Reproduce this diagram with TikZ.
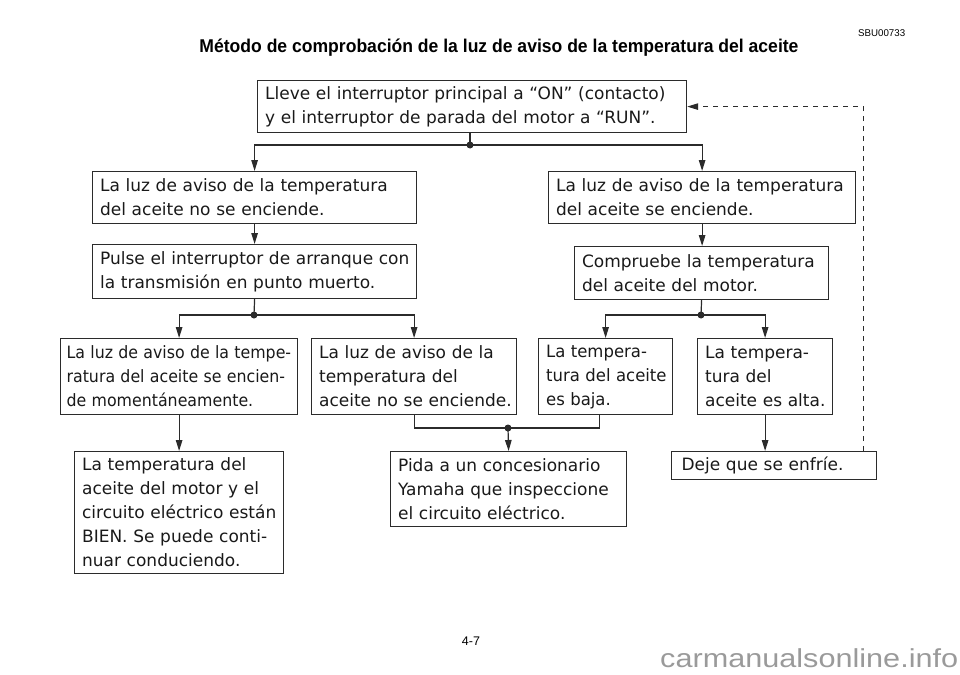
\documentclass[tikz,border=0pt]{standalone}
\usepackage{graphicx}
\usepackage{fontspec}
\setmainfont{DejaVu Sans}
\newfontfamily\titlefont{Liberation Sans}
\usetikzlibrary{arrows.meta}
\definecolor{ink}{HTML}{2B2B2B}
\definecolor{wm}{HTML}{9A9A9A}
\newcommand{\bxfont}{\fontsize{17}{24}\selectfont}
\newcommand{\sqz}[2]{\scalebox{#1}[1]{#2}}
\tikzset{
  box/.style={draw=ink, line width=1.2pt, text=black!90, align=left,
    inner xsep=7.5pt, inner ysep=0pt, anchor=north west, font=\bxfont},
  arr/.style={draw=ink, line width=1.2pt, -{Triangle[length=11pt,width=6.5pt]}},
  ln/.style={draw=ink, line width=1.2pt},
  junc/.style={circle, fill=ink, inner sep=0pt, minimum size=7pt},
  dashline/.style={draw=ink, line width=1pt, dash pattern=on 5pt off 5pt,
    -{Triangle[length=11pt,width=6.5pt]}},
}
\begin{document}
\begin{tikzpicture}[x=1pt,y=-1pt]
\useasboundingbox (0,0) rectangle (960,674);

% header
\node[anchor=base, inner sep=0pt, text=black] (title) at (499,53)
  {\resizebox{599pt}{\height}{\titlefont\bfseries\fontsize{18.5}{20}\selectfont M\'etodo de comprobaci\'on de la luz de aviso de la temperatura del aceite}};
\node[anchor=base west, inner sep=0pt, text=black] (code) at (858,37)
  {\resizebox{47pt}{\height}{\titlefont\fontsize{9.8}{12}\selectfont SBU00733}};

% boxes
\node[box, text width=414pt, minimum height=52pt] (top) at (257,80)
  {\mbox{Lleve el interruptor principal a “ON” (contacto)}\\\mbox{y el interruptor de parada del motor a “RUN”.}};
\node[box, text width=309pt, minimum height=52pt] (L1) at (92,171)
  {\mbox{La luz de aviso de la temperatura}\\\mbox{del aceite no se enciende.}};
\node[box, text width=292pt, minimum height=52pt] (R1) at (548,171)
  {\mbox{La luz de aviso de la temperatura}\\\mbox{del aceite se enciende.}};
\node[box, text width=309pt, minimum height=54pt] (L2) at (92,244)
  {\mbox{Pulse el interruptor de arranque con}\\\mbox{la transmisión en punto muerto.}};
\node[box, text width=239pt, minimum height=53pt] (R2) at (574,246)
  {\mbox{Compruebe la temperatura}\\\mbox{del aceite del motor.}};
\node[box, inner xsep=6pt, text width=225pt, minimum height=76pt] (L3a) at (60,338)
  {\sqz{0.93}{La luz de aviso de la tempe-}\\\sqz{0.93}{ratura del aceite se encien-}\\\sqz{0.93}{de momentáneamente.}};
\node[box, text width=190pt, minimum height=76pt] (L3b) at (311,338)
  {\mbox{La luz de aviso de la}\\\mbox{temperatura del}\\\mbox{aceite no se enciende.}};
\node[box, text width=119pt, minimum height=76pt] (R3a) at (538,338)
  {\sqz{0.97}{La tempera-}\\\sqz{0.97}{tura del aceite}\\\sqz{0.97}{es baja.}};
\node[box, text width=120pt, minimum height=76pt] (R3b) at (697,338)
  {\mbox{La tempera-}\\\mbox{tura del}\\\mbox{aceite es alta.}};
\node[box, text width=194pt, minimum height=122pt] (temp) at (74,451)
  {\mbox{La temperatura del}\\\mbox{aceite del motor y el}\\\mbox{circuito eléctrico están}\\\mbox{BIEN. Se puede conti-}\\\mbox{nuar conduciendo.}};
\node[box, text width=221pt, minimum height=75pt] (pida) at (390,451)
  {\mbox{Pida a un concesionario}\\\mbox{Yamaha que inspeccione}\\\mbox{el circuito eléctrico.}};
\node[box, inner xsep=10pt, text width=185pt, minimum height=28pt] (deje) at (671,451)
  {\mbox{Deje que se enfríe.}};

% junctions
\coordinate (j1) at (470,145);
\coordinate (j2) at (254,315);
\coordinate (j3) at (701,315);
\coordinate (j4) at (508,428);

\draw[ln] (j1 |- top.south) -- (j1);
\draw[arr] (j1) -| (L1.north);
\draw[arr] (j1) -| (R1.north);
\draw[arr] (L1.south) -- (L2.north);
\draw[arr] (R1.south) -- (R1.south |- R2.north);
\draw[ln] (L2.south) -- (j2);
\draw[arr] (j2) -| (L3a.north);
\draw[arr] (j2) -| (L3b.north);
\draw[ln] (R2.south) -- (j3);
\draw[arr] (j3) -| (R3a.north);
\draw[arr] (j3) -| (R3b.north);
\draw[ln] (L3b.south) |- (j4) -| ([xshift=-6pt]R3a.south);
\draw[arr] (j4) -- (pida.north);
\draw[arr] (L3a.south) -- (L3a.south |- temp.north);
\draw[arr] (R3b.south) -- (R3b.south |- deje.north);
\draw[dashline] ([xshift=-14pt]deje.north east) |- (top.east);

\node[junc] (d1) at (j1) {};
\node[junc] (d2) at (j2) {};
\node[junc] (d3) at (j3) {};
\node[junc] (d4) at (j4) {};

% footer
\node[anchor=base, inner sep=0pt, text=black] (page) at (471,645)
  {\titlefont\fontsize{12.5}{14}\selectfont 4-7};
\node[anchor=base west, inner sep=0pt, text=wm] (wmark) at (660,667)
  {\resizebox{298pt}{\height}{\titlefont\fontsize{26}{30}\selectfont carmanualsonline.info}};
\end{tikzpicture}
\end{document}
